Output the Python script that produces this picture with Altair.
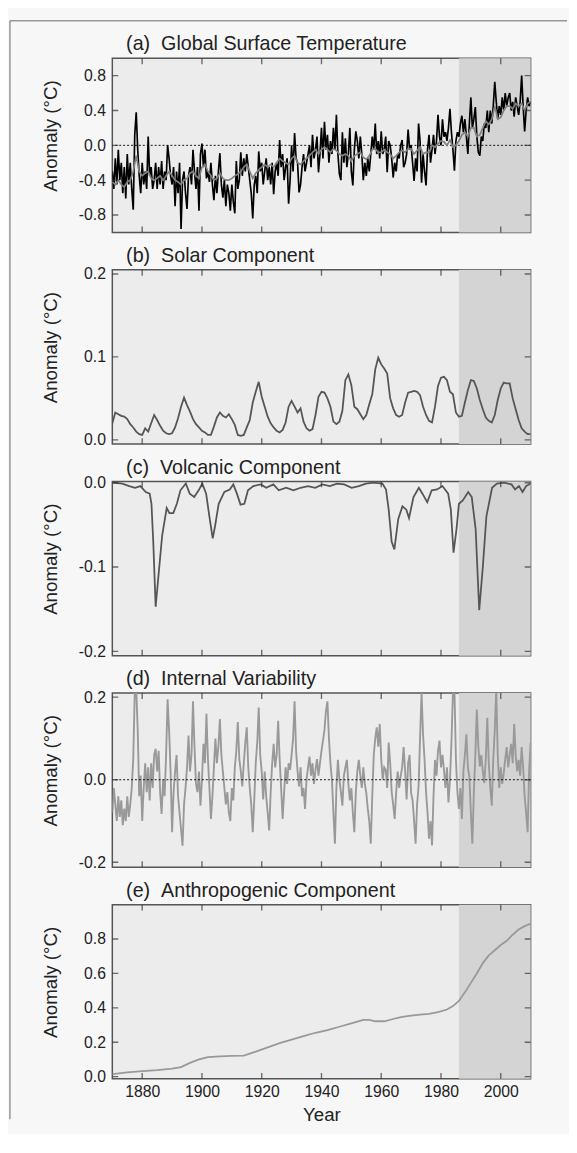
import altair as alt
import pandas as pd

FONT = "Liberation Sans"
X_DOMAIN = [1870, 2010]
SHADE_START, SHADE_END = 1986, 2010
X_TICKS = [1880, 1900, 1920, 1940, 1960, 1980, 2000]

TITLES = [
    "(a)\u00a0\u00a0Global Surface Temperature",
    "(b)\u00a0\u00a0Solar Component",
    "(c)\u00a0\u00a0Volcanic Component",
    "(d)\u00a0\u00a0Internal Variability",
    "(e)\u00a0\u00a0Anthropogenic Component",
]

# (a) observed global surface temperature (half-year steps from 1870)
obs_a = [
    -0.30, -0.50, -0.15, -0.45, -0.05, -0.40, -0.20, -0.55, -0.25, -0.61, -0.10, -0.45, -0.20, -0.50, -0.74, 0.12, 0.38, -0.05, -0.35, -0.55,
    -0.20, -0.45, -0.30, -0.50, 0.10, -0.35, -0.25, -0.50, -0.40, -0.20, -0.50, -0.25, -0.45, -0.18, -0.50, -0.30, -0.40, 0.00, -0.15, -0.35,
    -0.45, -0.25, -0.70, -0.30, -0.55, -0.20, -0.96, -0.40, -0.30, -0.55, -0.73, -0.35, -0.25, -0.45, -0.05, -0.30, -0.50, -0.25, -0.75, -0.10,
    0.02, -0.25, -0.05, -0.38, -0.30, -0.42, -0.20, -0.45, -0.63, -0.35, -0.55, -0.30, -0.09, -0.45, -0.60, -0.40, -0.70, -0.45, -0.55, -0.75,
    -0.45, -0.65, -0.78, -0.18, -0.50, -0.40, -0.08, -0.35, -0.15, -0.30, -0.10, -0.25, -0.40, -0.55, -0.84, -0.45, -0.35, -0.55, -0.07, -0.30,
    -0.20, -0.45, -0.30, -0.15, -0.40, -0.25, -0.45, -0.20, -0.56, -0.30, -0.20, -0.35, 0.06, -0.25, -0.10, -0.40, -0.25, -0.15, -0.67, -0.40,
    0.00, -0.30, 0.14, -0.15, -0.20, -0.54, -0.45, -0.25, -0.10, -0.30, -0.20, -0.10, 0.00, -0.25, 0.12, -0.15, -0.05, 0.10, -0.31, -0.10,
    0.20, -0.15, 0.27, -0.05, 0.12, -0.20, 0.05, -0.10, 0.20, -0.05, 0.35, -0.10, -0.33, -0.40, 0.15, -0.20, 0.08, -0.25, -0.10, 0.20,
    -0.30, -0.46, -0.05, 0.16, 0.05, -0.15, 0.10, -0.10, -0.40, -0.20, -0.35, -0.15, -0.30, -0.10, 0.10, -0.05, 0.25, -0.10, 0.05, -0.15,
    0.16, -0.10, -0.05, 0.10, -0.31, 0.05, 0.00, -0.15, -0.37, -0.20, -0.30, -0.10, -0.15, 0.00, 0.06, -0.25, -0.20, -0.10, 0.18, -0.05,
    0.00, -0.20, -0.41, -0.15, -0.30, 0.25, 0.05, -0.43, -0.10, -0.30, -0.46, -0.05, 0.12, -0.20, -0.05, 0.12, -0.10, 0.05, 0.35, 0.10,
    0.00, 0.30, 0.10, 0.15, 0.05, 0.20, 0.42, 0.15, -0.05, -0.29, 0.05, 0.15, 0.10, 0.25, 0.34, 0.15, 0.30, 0.10, -0.10, 0.25,
    0.55, 0.20, 0.30, 0.44, 0.10, -0.08, -0.12, 0.10, 0.05, 0.25, 0.20, 0.40, 0.15, 0.40, 0.25, 0.45, 0.73, 0.50, 0.30, 0.45,
    0.35, 0.55, 0.40, 0.60, 0.45, 0.55, 0.60, 0.40, 0.50, 0.33, 0.55, 0.45, 0.35, 0.50, 0.80, 0.45, 0.16, 0.40, 0.55, 0.45,
    0.50,
]

# (a) reconstruction (annual from 1870)
model_a = [
    -0.42, -0.45, -0.40, -0.45, -0.48, -0.42, -0.40, -0.30, -0.12, -0.30,
    -0.35, -0.32, -0.30, -0.38, -0.40, -0.38, -0.35, -0.40, -0.35, -0.30,
    -0.35, -0.40, -0.42, -0.45, -0.40, -0.38, -0.32, -0.30, -0.35, -0.38,
    -0.25, -0.22, -0.30, -0.35, -0.40, -0.38, -0.32, -0.38, -0.40, -0.40,
    -0.38, -0.35, -0.33, -0.30, -0.25, -0.22, -0.30, -0.38, -0.32, -0.28,
    -0.25, -0.22, -0.25, -0.22, -0.25, -0.20, -0.15, -0.18, -0.20, -0.22,
    -0.15, -0.12, -0.20, -0.22, -0.18, -0.15, -0.12, -0.08, -0.05, -0.10,
    -0.05, -0.02, -0.05, -0.08, -0.04, -0.06, -0.10, -0.12, -0.10, -0.12,
    -0.18, -0.12, -0.10, -0.08, -0.14, -0.16, -0.12, -0.05, -0.04, -0.08,
    -0.08, -0.05, -0.08, -0.10, -0.15, -0.12, -0.08, -0.06, -0.08, -0.04,
    -0.04, -0.10, -0.06, -0.02, -0.10, -0.08, -0.08, 0.00, -0.02, 0.02,
    0.05, 0.04, 0.00, 0.06, -0.02, 0.00, 0.05, 0.12, 0.15, 0.10,
    0.20, 0.20, 0.10, 0.12, 0.20, 0.28, 0.24, 0.30, 0.45, 0.30,
    0.32, 0.40, 0.45, 0.45, 0.42, 0.48, 0.45, 0.48, 0.40, 0.48,
    0.50,
]

# (b) solar component (annual from 1870)
solar_b = [
    0.020, 0.033, 0.031, 0.029, 0.028, 0.025, 0.019, 0.015, 0.010, 0.007,
    0.006, 0.014, 0.010, 0.020, 0.030, 0.024, 0.017, 0.011, 0.008, 0.007,
    0.008, 0.015, 0.026, 0.040, 0.051, 0.042, 0.034, 0.025, 0.019, 0.015,
    0.011, 0.009, 0.006, 0.006, 0.016, 0.027, 0.033, 0.029, 0.027, 0.031,
    0.025, 0.018, 0.006, 0.005, 0.006, 0.015, 0.024, 0.045, 0.058, 0.070,
    0.052, 0.040, 0.028, 0.020, 0.015, 0.011, 0.009, 0.012, 0.021, 0.040,
    0.047, 0.040, 0.033, 0.038, 0.022, 0.014, 0.011, 0.013, 0.030, 0.052,
    0.058, 0.057, 0.050, 0.040, 0.022, 0.019, 0.022, 0.035, 0.072, 0.079,
    0.066, 0.040, 0.037, 0.031, 0.025, 0.030, 0.043, 0.055, 0.085, 0.099,
    0.091, 0.086, 0.080, 0.050, 0.038, 0.030, 0.028, 0.030, 0.045, 0.057,
    0.058, 0.059, 0.058, 0.054, 0.040, 0.030, 0.023, 0.021, 0.040, 0.065,
    0.075, 0.076, 0.072, 0.058, 0.055, 0.033, 0.028, 0.029, 0.045, 0.060,
    0.072, 0.071, 0.062, 0.048, 0.037, 0.027, 0.023, 0.021, 0.030, 0.048,
    0.062, 0.069, 0.068, 0.068, 0.050, 0.037, 0.024, 0.014, 0.010, 0.007,
    0.007,
]

# (c) volcanic component
volc_years = [
    1870.2, 1873.3, 1875.7, 1877.6, 1879.4, 1881.2, 1882.5, 1883.1, 1883.7, 1884.5,
    1885.5, 1886.7, 1888.2, 1889.1, 1890.4, 1891.6, 1892.8, 1894.6, 1895.9, 1897.4,
    1898.9, 1900.1, 1901.4, 1902.6, 1903.6, 1904.4, 1905.6, 1907.5, 1909.3, 1910.5,
    1911.7, 1912.9, 1914.2, 1915.4, 1917.2, 1919.7, 1921.5, 1923.9, 1925.7, 1928.2,
    1930.6, 1933.0, 1935.5, 1937.9, 1940.3, 1942.8, 1945.2, 1947.6, 1950.1, 1952.5,
    1954.9, 1957.4, 1960.4, 1961.6, 1962.5, 1963.5, 1964.4, 1965.7, 1967.1, 1968.4,
    1969.3, 1970.8, 1972.6, 1973.8, 1975.4, 1976.9, 1978.7, 1980.5, 1982.4, 1983.3,
    1984.2, 1985.2, 1986.0, 1987.3, 1989.1, 1990.3, 1991.6, 1992.8, 1994.0, 1995.2,
    1997.1, 1998.7, 2001.2, 2003.6, 2004.8, 2006.1, 2007.3, 2008.5, 2010.0,
]
volc_vals = [
    0.0, -0.001, -0.004, -0.006, -0.004, -0.011, -0.013, -0.025, -0.070, -0.147,
    -0.108, -0.062, -0.030, -0.036, -0.036, -0.025, -0.009, -0.001, -0.013, -0.017,
    -0.009, -0.001, -0.013, -0.043, -0.066, -0.051, -0.025, -0.011, -0.008, -0.002,
    -0.013, -0.026, -0.025, -0.009, -0.004, -0.002, -0.006, -0.002, -0.009, -0.006,
    -0.009, -0.006, -0.004, -0.006, -0.002, -0.004, -0.001, -0.002, -0.006, -0.004,
    -0.001, 0.0, -0.001, -0.008, -0.032, -0.070, -0.079, -0.043, -0.028, -0.032,
    -0.042, -0.017, -0.006, -0.013, -0.023, -0.009, -0.008, -0.004, -0.013, -0.032,
    -0.083, -0.055, -0.025, -0.021, -0.011, -0.017, -0.055, -0.151, -0.100, -0.040,
    -0.006, -0.001, 0.0, -0.002, -0.008, -0.004, -0.011, -0.004, -0.001,
]

# (d) internal variability (half-year steps from 1870)
internal_d = [
    -0.08, -0.02, -0.06, -0.10, -0.04, -0.09, -0.05, -0.11, -0.07, -0.10, -0.04, -0.09, -0.06, -0.02, 0.05, 0.21, 0.22, 0.12, -0.04, 0.01,
    -0.10, -0.02, 0.04, -0.03, 0.03, -0.05, 0.04, -0.02, 0.06, 0.075, 0.02, 0.07, -0.03, -0.083, 0.00, -0.04, 0.06, 0.195, 0.12, 0.02,
    -0.127, -0.03, 0.02, 0.06, -0.04, -0.08, -0.12, -0.16, -0.06, -0.02, 0.03, 0.107, 0.02, 0.06, 0.19, 0.08, -0.01, -0.03, 0.02, -0.063,
    0.00, 0.087, 0.04, 0.16, 0.05, -0.02, -0.095, -0.04, 0.03, 0.10, 0.04, 0.08, 0.147, 0.06, 0.02, -0.02, -0.06, -0.03, -0.08, -0.10,
    -0.02, -0.05, 0.03, 0.07, 0.14, 0.05, 0.02, -0.016, 0.04, 0.09, 0.127, 0.03, -0.02, -0.06, -0.127, -0.05, 0.04, 0.09, 0.175, 0.06,
    0.02, -0.048, 0.02, -0.04, -0.08, -0.123, -0.03, 0.04, 0.087, 0.03, 0.06, 0.143, 0.05, -0.02, -0.095, -0.03, 0.03, -0.01, 0.04, 0.024,
    0.06, 0.10, 0.19, 0.07, 0.02, -0.016, 0.03, -0.04, -0.02, -0.071, 0.00, 0.03, 0.056, 0.01, 0.04, -0.01, 0.024, 0.05, 0.01, 0.04,
    0.07, 0.095, 0.12, 0.167, 0.19, 0.10, 0.04, 0.00, -0.08, -0.155, -0.02, 0.048, 0.00, -0.03, -0.063, 0.01, 0.03, 0.048, -0.01, -0.05,
    -0.02, -0.08, -0.127, -0.03, 0.02, 0.048, 0.01, -0.02, 0.03, -0.01, -0.032, -0.07, -0.10, -0.155, -0.04, 0.06, 0.10, 0.127, 0.08, 0.135,
    0.05, 0.00, 0.03, 0.024, -0.02, 0.09, 0.04, -0.03, -0.06, -0.095, -0.03, 0.02, -0.02, 0.008, 0.03, 0.079, 0.02, -0.048, 0.04, 0.06,
    -0.032, -0.05, -0.10, -0.155, -0.06, -0.016, 0.10, 0.21, 0.11, 0.048, -0.03, -0.08, -0.143, -0.10, -0.159, -0.04, 0.048, 0.01, 0.07, 0.095,
    0.03, 0.06, 0.024, -0.02, 0.03, -0.055, 0.00, 0.09, 0.21, 0.22, 0.05, -0.03, -0.071, -0.02, -0.095, 0.02, 0.06, 0.11, 0.03, 0.008,
    -0.08, -0.155, -0.03, 0.06, 0.17, 0.08, 0.032, 0.06, 0.02, -0.008, 0.05, 0.15, 0.04, -0.02, -0.063, 0.05, 0.12, 0.22, 0.06, -0.02,
    0.03, -0.01, 0.016, 0.05, 0.079, 0.03, 0.06, 0.087, 0.04, 0.135, 0.06, 0.02, 0.048, 0.01, 0.079, 0.03, -0.04, -0.08, -0.127, 0.02,
    0.09,
]

# (e) anthropogenic component
anth_years = [
    1870, 1875, 1880, 1885, 1890, 1893, 1896, 1899, 1902, 1906, 1910, 1914, 1918, 1922, 1926, 1930,
    1934, 1938, 1942, 1946, 1950, 1954, 1956, 1958, 1961, 1964, 1967, 1970, 1973, 1976, 1979, 1982,
    1984, 1986, 1988, 1990, 1992, 1994, 1996, 1998, 2000, 2002, 2004, 2006, 2008, 2010,
]
anth_vals = [
    0.015, 0.025, 0.032, 0.038, 0.047, 0.055, 0.080, 0.100, 0.113, 0.118, 0.120, 0.122, 0.145, 0.170, 0.195, 0.215,
    0.235, 0.255, 0.270, 0.290, 0.310, 0.330, 0.330, 0.322, 0.322, 0.335, 0.348, 0.355, 0.360, 0.365, 0.375, 0.390,
    0.410, 0.440, 0.490, 0.545, 0.600, 0.660, 0.705, 0.735, 0.765, 0.790, 0.825, 0.855, 0.875, 0.890,
]

half_years = [1870 + i / 2 for i in range(len(obs_a))]
annual_years = [1870 + i for i in range(len(model_a))]
half_years_d = [1870 + i / 2 for i in range(len(internal_d))]

W, H = 425, 177
TXT = "#222222"
xs = alt.Scale(domain=X_DOMAIN, nice=False, zero=False)

LABEL_EXPR = "datum.value < 0 ? '-' + format(-datum.value, '.1f') : format(datum.value, '.1f')"


def panel(title, ydomain, yticks, lines, zero_line=None, last=False, extra=None):
    ys = alt.Scale(domain=ydomain, nice=False, zero=False)
    if last:
        xaxis = alt.Axis(values=X_TICKS, format="d", title="Year", labelFontSize=16,
                         titleFontSize=19, titleFontWeight="normal", labelPadding=5,
                         titlePadding=6, ticks=False, domain=False, grid=False,
                         labelFlush=False, labelColor=TXT, titleColor=TXT, labelOverlap=False)
    else:
        xaxis = None
    yaxis = alt.Axis(values=yticks, title="Anomaly (°C)", titleX=-53, titleY=H / 2 - 10,
                     titleFontSize=19, titleFontWeight="normal", titleColor=TXT,
                     labelFontSize=16, labelColor=TXT, labelPadding=7, ticks=False,
                     domain=False, grid=False, labelExpr=LABEL_EXPR, labelOverlap=False)

    def X(field):
        return alt.X(field, scale=xs, axis=xaxis)

    def Y(field):
        return alt.Y(field, scale=ys, axis=yaxis)

    layers = [
        alt.Chart(pd.DataFrame({"s": [SHADE_START], "e": [SHADE_END]}))
        .mark_rect(color="#d4d4d4").encode(x=X("s:Q"), x2="e:Q")
    ]
    zl = None
    if zero_line is not None:
        zl = alt.Chart(pd.DataFrame({"z": [0.0]})).mark_rule(
            color="#111", strokeDash=[2, 2], strokeWidth=1).encode(y=Y("z:Q"))
    if zero_line == "below":
        layers.append(zl)
    for yr, vv, col, wd in lines:
        df = pd.DataFrame({"year": yr, "v": vv})
        layers.append(alt.Chart(df).mark_line(color=col, strokeWidth=wd, clip=True)
                      .encode(x=X("year:Q"), y=Y("v:Q")))
    if zero_line == "above":
        layers.append(zl)

    xt = pd.DataFrame({"t": X_TICKS})
    yt = pd.DataFrame({"v": yticks})
    tick_style = dict(color="#333", size=12, thickness=1.4, clip=True)
    for yv in (0, H):
        layers.append(alt.Chart(xt).mark_tick(orient="vertical", **tick_style).encode(
            x=X("t:Q"), y=alt.value(yv)))
    for xv in (0, W):
        layers.append(alt.Chart(yt).mark_tick(orient="horizontal", **tick_style).encode(
            y=Y("v:Q"), x=alt.value(xv)))

    layers.append(alt.Chart(pd.DataFrame({"title": [title]})).mark_text(
        align="left", baseline="alphabetic", fontSize=20, font=FONT, color=TXT).encode(
        text="title:N", x=alt.value(14), y=alt.value(-8)))
    if extra:
        layers.extend(extra)

    return alt.layer(*layers).properties(width=W, height=H)


one = pd.DataFrame({"k": [0]})
frame = [
    alt.Chart(one).mark_rule(color="#666", strokeWidth=1).encode(
        x=alt.value(-104), y=alt.value(-38), y2=alt.value(1078)),
    alt.Chart(one).mark_rule(color="#666", strokeWidth=1).encode(
        x=alt.value(-104), x2=alt.value(462), y=alt.value(-38)),
]

pa = panel(TITLES[0], [-1.0, 1.0], [-0.8, -0.4, 0.0, 0.4, 0.8],
           [(half_years, obs_a, "#000000", 1.7), (annual_years, model_a, "#808080", 1.7)],
           zero_line="below", extra=frame)
pb = panel(TITLES[1], [-0.005, 0.205], [0.0, 0.1, 0.2],
           [(annual_years, solar_b, "#555555", 1.8)])
pc = panel(TITLES[2], [-0.205, 0.0015], [-0.2, -0.1, 0.0],
           [(volc_years, volc_vals, "#555555", 1.8)])
pd_ = panel(TITLES[3], [-0.212, 0.21], [-0.2, 0.0, 0.2],
            [(half_years_d, internal_d, "#999999", 1.9)], zero_line="above")
pe = panel(TITLES[4], [-0.013, 1.0], [0.0, 0.2, 0.4, 0.6, 0.8],
           [(anth_years, anth_vals, "#999999", 1.8)], last=True)

chart = alt.vconcat(pa, pb, pc, pd_, pe, spacing=38, bounds="flush").properties(
    padding={"left": 0, "top": 2, "right": 0, "bottom": 0}
).configure(
    background="#f7f7f7", font=FONT
).configure_view(
    fill="#ececec", stroke="#555555", strokeWidth=1.5
)

chart.save("out.html", embed_options={"renderer": "svg", "actions": False})
